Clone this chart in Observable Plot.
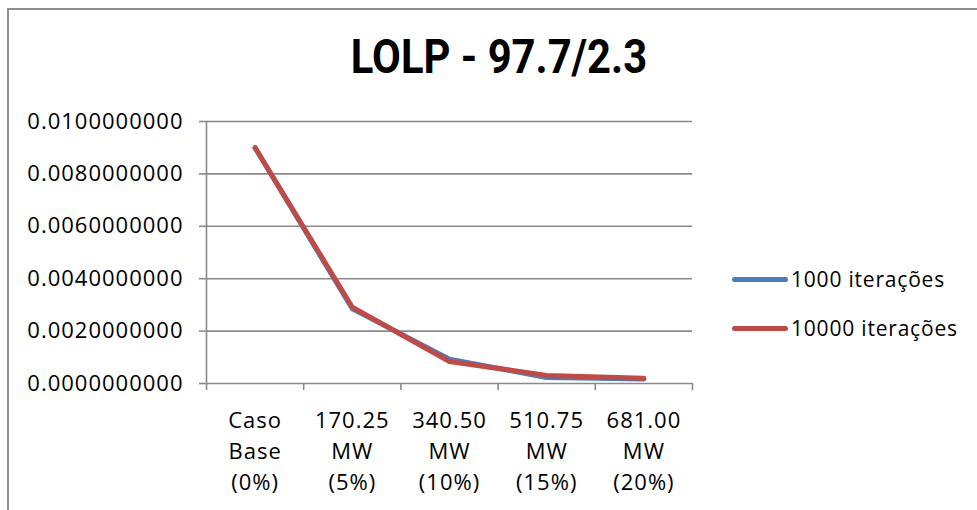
<!DOCTYPE html>
<html>
<head>
<meta charset="utf-8">
<script src="https://cdn.jsdelivr.net/npm/d3@7"></script>
<script src="https://cdn.jsdelivr.net/npm/@observablehq/plot@0.6"></script>
<style>
  html, body { margin: 0; padding: 0; background: #fff; }
  #wrap { position: relative; width: 977px; height: 510px; overflow: hidden; font-family: "Open Sans", sans-serif; }
  #border { position: absolute; left: 7px; top: 8px; width: 1000px; height: 600px; border-left: 2px solid #8f8f8f; border-top: 2px solid #8f8f8f; }
  #title { position: absolute; left: 499px; top: 59px; transform: translate(-50%, -55%) scaleX(0.87); font-family: Roboto, sans-serif; font-weight: 700; font-size: 48px; color: #000; white-space: nowrap; }
  .leg { position: absolute; left: 732px; height: 30px; display: flex; align-items: center; font-size: 21px; letter-spacing: 0.8px; color: #000; white-space: nowrap; }
  .leg span.sw { display: inline-block; width: 56px; height: 5px; border-radius: 3px; margin-right: 3px; }
</style>
</head>
<body>
<div id="wrap">
  <div id="chart"></div>
  <div id="border"></div>
  <div id="title"></div>
  <div id="legend"></div>
</div>
<script>
const title = "LOLP - 97.7/2.3";
const categories = ["Caso\nBase\n(0%)", "170.25\nMW\n(5%)", "340.50\nMW\n(10%)", "510.75\nMW\n(15%)", "681.00\nMW\n(20%)"];
const seriesNames = ["1000 iterações", "10000 iterações"];
const iter1000 = [0.0090, 0.00285, 0.00093, 0.00023, 0.00017];
const iter10000 = [0.0090, 0.00291, 0.00084, 0.00031, 0.00020];
const yTicks = [0, 0.002, 0.004, 0.006, 0.008, 0.010];
const colors = ["#4a7ebb", "#be4b48"];

const rows = [];
[iter1000, iter10000].forEach((vals, s) => {
  vals.forEach((v, i) => rows.push({i, cat: categories[i], series: seriesNames[s], value: v}));
});
const catRows = categories.map((c, i) => ({i, cat: c}));

const plot = Plot.plot({
  width: 977,
  height: 510,
  marginLeft: 206,
  marginRight: 285,
  marginTop: 121,
  marginBottom: 127,
  style: {fontFamily: "Open Sans, sans-serif", fontSize: "22px", letterSpacing: "1px", color: "#000", background: "transparent"},
  x: {domain: [0, categories.length], axis: null},
  y: {domain: [0, 0.01], axis: null},
  color: {domain: seriesNames, range: colors},
  marks: [
    Plot.ruleY(yTicks, {stroke: "#8a8a8a", strokeWidth: 1.6}),
    Plot.frame({anchor: "left", stroke: "#8a8a8a", strokeWidth: 1.6}),
    Plot.axisY({ticks: yTicks, label: null, tickSize: 7, tickPadding: 16, tickFormat: d3.format(".10f"), stroke: "#8a8a8a", strokeWidth: 1.6, fontSize: 22}),
    Plot.axisX({ticks: d3.range(categories.length + 1), label: null, tickSize: 7, tickFormat: () => "", stroke: "#8a8a8a", strokeWidth: 1.6}),
    Plot.text(catRows, {x: d => d.i + 0.5, text: "cat", frameAnchor: "bottom", lineAnchor: "top", dy: 23, lineHeight: 1.4, fontSize: 22, fill: "#000"}),
    Plot.line(rows, {x: d => d.i + 0.5, y: "value", z: "series", stroke: "series", strokeWidth: 5, strokeLinecap: "round", strokeLinejoin: "round"})
  ]
});
document.getElementById("chart").appendChild(plot);
document.getElementById("title").textContent = title;

const legend = document.getElementById("legend");
seriesNames.forEach((name, k) => {
  const d = document.createElement("div");
  d.className = "leg";
  d.style.top = (264 + k * 49) + "px";
  const sw = document.createElement("span");
  sw.className = "sw";
  sw.style.background = colors[k];
  d.appendChild(sw);
  d.appendChild(document.createTextNode(name));
  legend.appendChild(d);
});
</script>
</body>
</html>
